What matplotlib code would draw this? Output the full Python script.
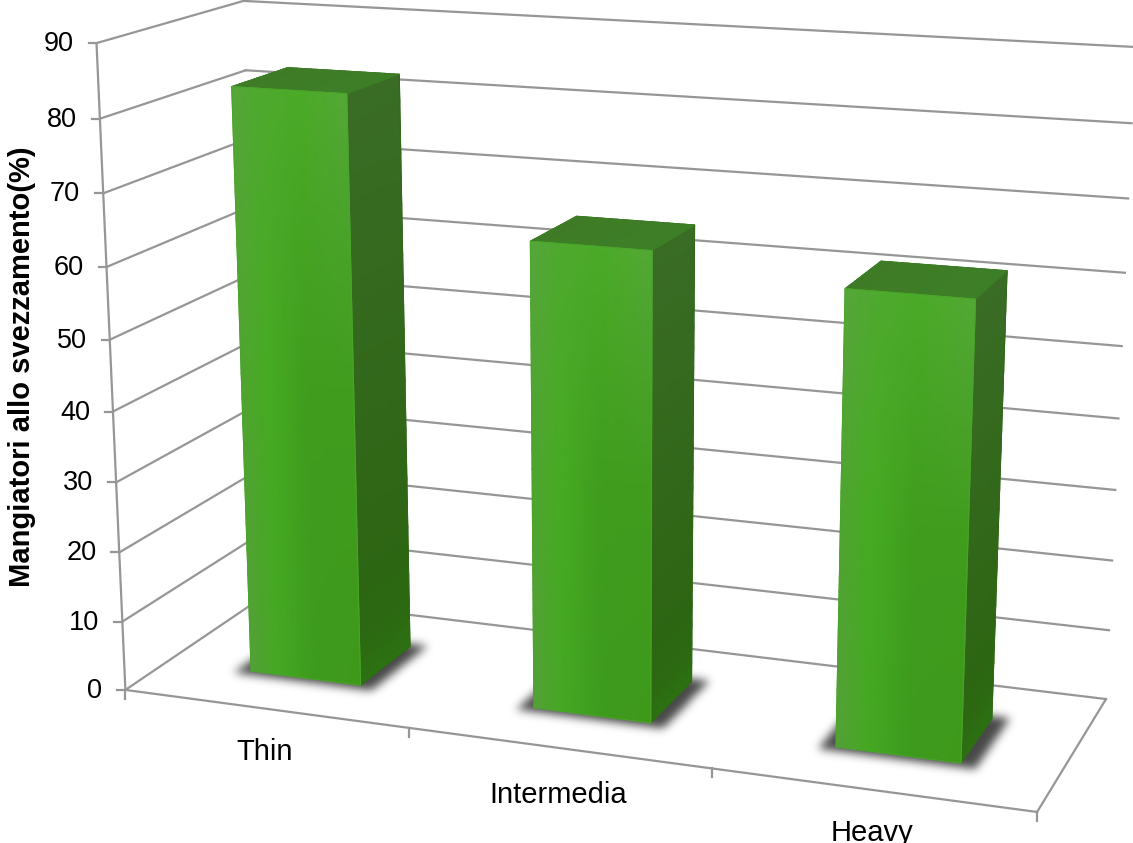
import numpy as np
import matplotlib
matplotlib.use("Agg")
import matplotlib.pyplot as plt
from matplotlib.colors import to_rgb
from matplotlib.path import Path
from matplotlib.patches import Polygon

categories = ["Thin", "Intermedia", "Heavy"]
values = [83, 65, 62]
y_ticks = [0, 10, 20, 30, 40, 50, 60, 70, 80, 90]
y_title = "Mangiatori allo svezzamento(%)"

WIDTH, HEIGHT = 1133, 843
GRID = "#969696"
BAR_WIDTH = 0.395
DEPTH_FRONT, DEPTH_BACK = 0.30, 0.70
FONT = ["Liberation Sans", "DejaVu Sans"]
label_drop = [51, 55, 51]

# camera: box corners (category, value, depth) and where they land on the canvas
box_corners = [(0, 0, 0), (0, 90, 0), (0, 0, 1), (0, 90, 1), (3, 0, 1), (3, 90, 1), (3, 0, 0)]
canvas_corners = [(125, 690), (97, 43), (263, 597), (243, 1), (1106, 699), (1135, 47), (1037, 812)]

# front face colours, rows run top to bottom, columns left to right
front_stops = [0, 0.25, 0.6, 1]
front_top = ["#56A63A", "#4EA92E", "#4BAA28", "#53A836"]
front_mid = ["#4FA430", "#46AB22", "#3F9C1D", "#409C1D"]
front_low = ["#55A038", "#45A823", "#3D9A1D", "#3E991B"]


def fit_camera():
    rows, rhs = [], []
    for (X, Y, Z), (u, v) in zip(box_corners, canvas_corners):
        Y = Y / 90
        rows.append([X, Y, Z, 1, 0, 0, 0, 0, -u * X, -u * Y, -u * Z])
        rows.append([0, 0, 0, 0, X, Y, Z, 1, -v * X, -v * Y, -v * Z])
        rhs += [u, v]
    p = np.linalg.lstsq(np.array(rows, float), np.array(rhs, float), rcond=None)[0]
    return np.append(p, 1).reshape(3, 4)


CAM = fit_camera()


def project(x, y, z):
    x, y, z = np.broadcast_arrays(np.asarray(x, float), np.asarray(y, float) / 90, np.asarray(z, float))
    w = CAM[2, 0] * x + CAM[2, 1] * y + CAM[2, 2] * z + CAM[2, 3]
    px = (CAM[0, 0] * x + CAM[0, 1] * y + CAM[0, 2] * z + CAM[0, 3]) / w
    py = (CAM[1, 0] * x + CAM[1, 1] * y + CAM[1, 2] * z + CAM[1, 3]) / w
    return px, py


def line3d(ax, a, b, lw=1.6, zorder=1):
    p0, p1 = project(*a), project(*b)
    ax.plot([p0[0], p1[0]], [p0[1], p1[1]], color=GRID, lw=lw, zorder=zorder, solid_capstyle="projecting")


def blend(c0, c1, t):
    return np.array(to_rgb(c0)) * (1 - t) + np.array(to_rgb(c1)) * t


def front_colors(n):
    u = np.linspace(0, 1, n)
    rows = []
    for row in (front_top, front_mid, front_low):
        rgb = np.array([to_rgb(c) for c in row])
        rows.append(np.stack([np.interp(u, front_stops, rgb[:, k]) for k in range(3)], axis=1))
    rows = np.array(rows)
    v = np.linspace(0, 1, n)
    out = np.zeros((n, n, 3))
    for j in range(n):
        for k in range(3):
            out[:, j, k] = np.interp(v, [0, 0.5, 1], rows[:, j, k])
    return out


def face(ax, x, y, z, colors, edge, zorder):
    px, py = project(x, y, z)
    ax.pcolormesh(px, py, colors, shading="gouraud", zorder=zorder, rasterized=True)
    outline = np.column_stack([
        np.r_[px[0, :], px[:, -1], px[-1, ::-1], px[::-1, 0]],
        np.r_[py[0, :], py[:, -1], py[-1, ::-1], py[::-1, 0]],
    ])
    ax.add_patch(Polygon(outline, closed=True, fill=False, edgecolor=edge, lw=0.7, zorder=zorder))


def blur(mask, sigma):
    r = int(sigma * 3)
    k = np.exp(-0.5 * (np.arange(-r, r + 1) / sigma) ** 2)
    k /= k.sum()
    mask = np.apply_along_axis(lambda m: np.convolve(m, k, mode="same"), 0, mask)
    return np.apply_along_axis(lambda m: np.convolve(m, k, mode="same"), 1, mask)


def shadow(ax, x0, x1):
    # soft contact shadow under the footprint of a bar
    sx0, sx1 = x0 - 0.05, x1 + 0.05
    zf, zb = DEPTH_FRONT - 0.03, DEPTH_BACK + 0.03
    px, py = project([sx0, sx1, sx1, sx0], 0, [zf, zf, zb, zb])
    left, right = int(px.min()) - 25, int(px.max()) + 25
    top, bottom = int(py.min()) - 25, int(py.max()) + 25
    gx, gy = np.meshgrid(np.arange(left, right), np.arange(top, bottom))
    inside = Path(np.column_stack([px, py])).contains_points(np.column_stack([gx.ravel(), gy.ravel()]))
    alpha = blur(inside.reshape(gx.shape).astype(float), 4.5)
    rgba = np.zeros(gx.shape + (4,))
    rgba[..., 3] = np.clip(alpha * 0.72, 0, 1)
    ax.imshow(rgba, extent=(left, right, bottom, top), zorder=2, interpolation="bilinear", aspect="auto")


def bar3d(ax, i, value):
    x0, x1 = i + 0.5 - BAR_WIDTH / 2, i + 0.5 + BAR_WIDTH / 2
    zf, zb = DEPTH_FRONT, DEPTH_BACK
    shadow(ax, x0, x1)
    n = 24
    s = np.linspace(0, 1, n)
    T, S = np.meshgrid(s, s)  # S runs down the face, T across it

    # right side, from the front edge to the back
    side = np.zeros((n, n, 3))
    for a in range(n):
        for b in range(n):
            glow = 0.5 * S[a, b] ** 14
            side[a, b] = blend("#3A6C26", "#2A640F", S[a, b]) * (1 - glow) + np.array(to_rgb("#2F8216")) * glow
    face(ax, x1 + 0 * T, value * (1 - S), zf + (zb - zf) * T, side, "#2F6A18", 3)

    # top
    top = np.zeros((n, n, 3))
    for a in range(n):
        for b in range(n):
            top[a, b] = blend("#3F7B26", "#3D7F27", T[a, b])
    face(ax, x0 + (x1 - x0) * T, value + 0 * T, zb + (zf - zb) * S, top, "#3E7C27", 4)

    # front
    face(ax, x0 + (x1 - x0) * T, value * (1 - S), zf + 0 * T, front_colors(n), "#4AA52A", 5)


fig = plt.figure(figsize=(WIDTH / 100, HEIGHT / 100), dpi=100)
ax = fig.add_axes([0, 0, 1, 1])

# walls
for v in y_ticks:
    line3d(ax, (0, v, 0), (0, v, 1))
    line3d(ax, (0, v, 1), (3, v, 1))

# floor
line3d(ax, (0, 0, 0), (3, 0, 0))
line3d(ax, (3, 0, 0), (3, 0, 1))
line3d(ax, (0, 0, 0), (0, 90, 0))

# value ticks and labels
for v in y_ticks:
    px, py = project(0, v, 0)
    ax.plot([px - 8, px], [py, py], color=GRID, lw=1.6, zorder=1)
    ax.text(px - 23, py + 1, str(v), ha="right", va="center", fontsize=19.5, color="black", family=FONT)

# category ticks
for i in range(len(categories) + 1):
    px, py = project(i, 0, 0)
    ax.plot([px, px], [py, py + 9], color=GRID, lw=1.6, zorder=1)

for i, (name, value) in enumerate(zip(categories, values)):
    bar3d(ax, i, value)
    px, py = project(i + 0.5, 0, 0)
    ax.text(px, py + label_drop[i], name, ha="center", va="baseline", fontsize=21, color="black", family=FONT)

ax.text(22, 367, y_title, rotation=90, ha="center", va="center", fontsize=21, fontweight="bold",
        color="black", family=FONT)

ax.set_xlim(0, WIDTH)
ax.set_ylim(HEIGHT, 0)
ax.axis("off")
fig.savefig("out.png", dpi=100, facecolor="white")
